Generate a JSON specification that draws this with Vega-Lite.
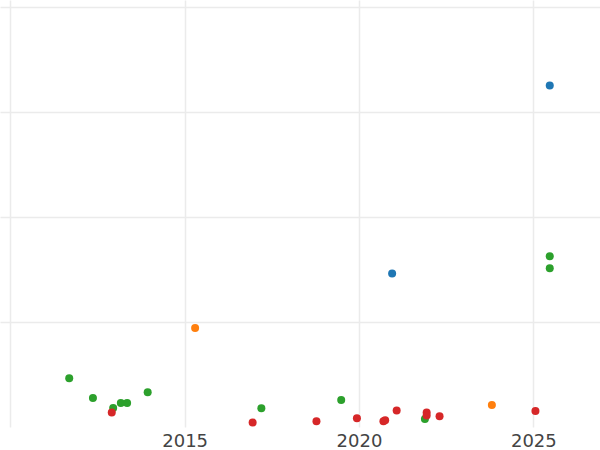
{
  "$schema": "https://vega.github.io/schema/vega-lite/v6.json",
  "width": 600,
  "height": 427,
  "padding": {"left": 0, "top": 0, "right": 0, "bottom": 23},
  "autosize": {"type": "none"},
  "background": "white",
  "config": {"view": {"stroke": null}},
  "data": {"values": [
    {"year": 2011.69, "value": 0.464, "group": "C"},
    {"year": 2012.37, "value": 0.276, "group": "C"},
    {"year": 2012.95, "value": 0.181, "group": "C"},
    {"year": 2013.17, "value": 0.229, "group": "C"},
    {"year": 2013.35, "value": 0.229, "group": "C"},
    {"year": 2013.94, "value": 0.330, "group": "C"},
    {"year": 2017.20, "value": 0.178, "group": "C"},
    {"year": 2019.49, "value": 0.257, "group": "C"},
    {"year": 2021.89, "value": 0.076, "group": "C"},
    {"year": 2025.47, "value": 1.626, "group": "C"},
    {"year": 2025.47, "value": 1.511, "group": "C"},
    {"year": 2015.30, "value": 0.943, "group": "B"},
    {"year": 2023.81, "value": 0.210, "group": "B"},
    {"year": 2020.95, "value": 1.461, "group": "A"},
    {"year": 2025.47, "value": 3.251, "group": "A"},
    {"year": 2012.91, "value": 0.137, "group": "D"},
    {"year": 2016.95, "value": 0.042, "group": "D"},
    {"year": 2018.78, "value": 0.054, "group": "D"},
    {"year": 2019.94, "value": 0.083, "group": "D"},
    {"year": 2020.70, "value": 0.054, "group": "D"},
    {"year": 2020.75, "value": 0.064, "group": "D"},
    {"year": 2021.08, "value": 0.156, "group": "D"},
    {"year": 2021.94, "value": 0.137, "group": "D"},
    {"year": 2021.94, "value": 0.109, "group": "D"},
    {"year": 2022.31, "value": 0.102, "group": "D"},
    {"year": 2025.06, "value": 0.152, "group": "D"}
  ]},
  "mark": {"type": "circle", "size": 64, "opacity": 1},
  "encoding": {
    "x": {
      "field": "year", "type": "quantitative",
      "scale": {"domain": [2009.705, 2026.911], "nice": false, "zero": false},
      "axis": {
        "title": null, "values": [2010, 2015, 2020, 2025], "format": "d",
        "labelExpr": "datum.value == 2010 ? '' : datum.label",
        "domain": false, "ticks": false, "labelPadding": 5,
        "labelFont": "DejaVu Sans", "labelFontSize": 18, "labelColor": "#444444",
        "gridColor": "#ebebeb", "gridWidth": 1.5, "labelFlush": false
      }
    },
    "y": {
      "field": "value", "type": "quantitative",
      "scale": {"domain": [0, 4.064], "nice": false},
      "axis": {
        "title": null, "values": [1, 2, 3, 4], "labels": false,
        "domain": false, "ticks": false,
        "gridColor": "#ebebeb", "gridWidth": 1.5
      }
    },
    "color": {
      "field": "group", "type": "nominal",
      "scale": {"domain": ["A", "B", "C", "D"], "range": ["#1f77b4", "#ff7f0e", "#2ca02c", "#d62728"]},
      "legend": null
    }
  }
}
